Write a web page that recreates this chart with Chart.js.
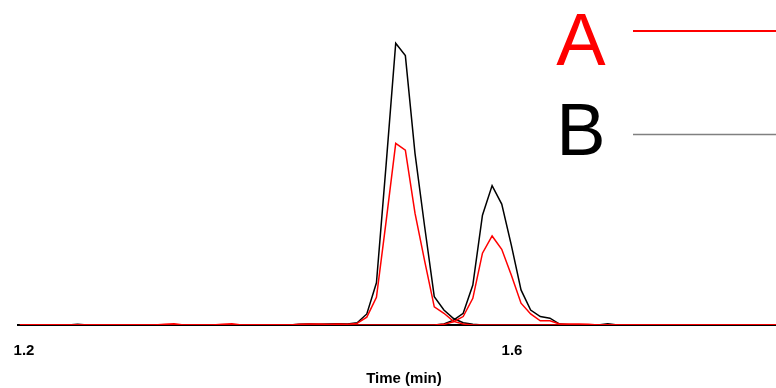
<!DOCTYPE html>
<html>
<head>
<meta charset="utf-8">
<script src="https://cdn.jsdelivr.net/npm/chart.js@4"></script>
<style>
  html, body { margin: 0; padding: 0; background: #ffffff; }
  #chromatogram { display: block; }
</style>
</head>
<body>
<canvas id="chromatogram" width="776" height="388"></canvas>
<script>
// retention time grid (min)
const timeMin = [
  1.1966, 1.2045, 1.2124, 1.2203, 1.2282, 1.2361, 1.2440, 1.2519, 1.2598, 1.2677,
  1.2756, 1.2835, 1.2914, 1.2993, 1.3072, 1.3151, 1.3230, 1.3309, 1.3388, 1.3467,
  1.3546, 1.3625, 1.3704, 1.3783, 1.3862, 1.3941, 1.4020, 1.4099, 1.4178, 1.4257,
  1.4336, 1.4415, 1.4494, 1.4573, 1.4652, 1.4731, 1.4810, 1.4889, 1.4968, 1.5047,
  1.5126, 1.5205, 1.5284, 1.5363, 1.5442, 1.5521, 1.5600, 1.5679, 1.5758, 1.5837,
  1.5916, 1.5995, 1.6074, 1.6153, 1.6232, 1.6311, 1.6390, 1.6469, 1.6548, 1.6627,
  1.6706, 1.6785, 1.6864, 1.6943, 1.7022, 1.7101, 1.7180, 1.7259, 1.7338, 1.7417,
  1.7496, 1.7575, 1.7654, 1.7733, 1.7812, 1.7891, 1.7970, 1.8049, 1.8128, 1.8207,
];

// trace A, first and second peak
const intensityA1 = [
  0, 0, 0, 0, 0, 0, 0, 0, 0, 0,
  0, 0, 0, 0, 0, 0.2, 0.4, 0, 0, 0,
  0, 0.2, 0.4, 0, 0, 0, 0, 0, 0, 0.2,
  0.3, 0.3, 0.2, 0.3, 0.2, 0.5, 2.4, 8.5, 31.8, 55.9,
  53.8, 34.4, 19.7, 5.6, 3.6, 1.1, 0.3, 0, 0, 0,
  0, 0, 0, 0, 0, 0, 0, 0, 0, 0,
  0, 0, 0, 0, 0, 0, 0, 0, 0, 0,
  0, 0, 0, 0, 0, 0, 0, 0, 0, 0,
];
const intensityA2 = [
  0, 0, 0, 0, 0, 0, 0, 0, 0, 0,
  0, 0, 0, 0, 0, 0, 0, 0, 0, 0,
  0, 0, 0, 0, 0, 0, 0, 0, 0, 0,
  0, 0, 0, 0, 0, 0, 0, 0, 0, 0,
  0, 0, 0, 0, 0.2, 1.0, 2.6, 8.2, 22.1, 27.4,
  23.3, 15.3, 6.7, 3.4, 1.3, 1.3, 0.3, 0.3, 0.3, 0.2,
  0, 0, 0, 0, 0, 0, 0, 0, 0, 0,
  0, 0, 0, 0, 0, 0, 0, 0, 0, 0,
];

// trace B, first and second peak
const intensityB1 = [
  0, 0, 0, 0, 0, 0, 0.2, 0, 0, 0,
  0, 0, 0, 0, 0, 0, 0, 0, 0, 0,
  0, 0, 0, 0, 0, 0, 0, 0, 0, 0.2,
  0.3, 0.2, 0.3, 0.4, 0.3, 0.7, 3.4, 13.0, 49.2, 86.7,
  82.9, 52.8, 30.3, 8.7, 4.6, 2.0, 0.7, 0.2, 0, 0,
  0, 0, 0, 0, 0, 0, 0, 0, 0, 0,
  0, 0, 0, 0, 0, 0, 0, 0, 0, 0,
  0, 0, 0, 0, 0, 0, 0, 0, 0, 0,
];
const intensityB2 = [
  0, 0, 0, 0, 0, 0, 0, 0, 0, 0,
  0, 0, 0, 0, 0, 0, 0, 0, 0, 0,
  0, 0, 0, 0, 0, 0, 0, 0, 0, 0,
  0, 0, 0, 0, 0, 0, 0, 0, 0, 0,
  0, 0, 0, 0, 0.3, 1.5, 3.6, 12.3, 33.8, 42.9,
  37.2, 24.5, 10.8, 4.6, 2.6, 2.1, 0.3, 0.1, 0, 0,
  0, 0.4, 0, 0, 0, 0, 0, 0, 0, 0,
  0, 0, 0, 0, 0, 0, 0, 0, 0, 0,
];

const xTickValues = [1.2, 1.6];
const xTitle = "Time (min)";

const legendNames = ["A", "B"];
const legendTextColors = ["#ff0000", "#000000"];
const legendLineColors = ["#ff0000", "#808080"];

const FONT = "'Liberation Sans', Arial, sans-serif";

function toPoints(values) {
  return timeMin.map((t, i) => ({ x: t, y: values[i] }));
}

function traceDataset(label, values, color) {
  return {
    label: label,
    data: toPoints(values),
    borderColor: color,
    borderWidth: 1.5,
    pointRadius: 0,
    tension: 0,
    fill: false,
  };
}

// big letter + line key in the top right corner
const letterLegend = {
  id: "letterLegend",
  afterDraw(chart) {
    const ctx = chart.ctx;
    const rowBaselines = [65, 155];
    const rowLines = [31, 134.5];
    const lineWidths = [2, 1.5];
    ctx.save();
    ctx.font = "74px " + FONT;
    ctx.textAlign = "center";
    ctx.textBaseline = "alphabetic";
    legendNames.forEach((name, i) => {
      ctx.fillStyle = legendTextColors[i];
      ctx.fillText(name, 581, rowBaselines[i]);
      ctx.strokeStyle = legendLineColors[i];
      ctx.lineWidth = lineWidths[i];
      ctx.beginPath();
      ctx.moveTo(633, rowLines[i]);
      ctx.lineTo(chart.width, rowLines[i]);
      ctx.stroke();
    });
    ctx.restore();
  },
};

// x axis title, sits a little right of the plot centre
const axisTitle = {
  id: "axisTitle",
  afterDraw(chart) {
    const ctx = chart.ctx;
    ctx.save();
    ctx.font = "bold 15px " + FONT;
    ctx.fillStyle = "#000000";
    ctx.textAlign = "center";
    ctx.textBaseline = "middle";
    ctx.fillText(xTitle, 404, 379);
    ctx.restore();
  },
};

function createChromatogram() {
  const config = {
    type: "line",
    data: {
      datasets: [
        traceDataset("A", intensityA1, "#ff0000"),
        traceDataset("A", intensityA2, "#ff0000"),
        traceDataset("B", intensityB1, "#000000"),
        traceDataset("B", intensityB2, "#000000"),
      ],
    },
    options: {
      responsive: false,
      animation: false,
      layout: { padding: { left: 18, right: 0, top: 0, bottom: 11 } },
      plugins: {
        legend: { display: false },
        tooltip: { enabled: false },
      },
      scales: {
        x: {
          type: "linear",
          min: 1.1951,
          max: 1.8164,
          afterBuildTicks: (scale) => {
            scale.ticks = xTickValues.map((v) => ({ value: v }));
          },
          // labels stay inside the padding, no extra room needed
          afterFit: (scale) => {
            scale.paddingLeft = 0;
            scale.paddingRight = 0;
          },
          grid: { display: false, drawTicks: false },
          border: { display: true, color: "#000000", width: 2 },
          ticks: {
            color: "#000000",
            padding: 17,
            maxRotation: 0,
            font: { family: FONT, size: 15, weight: "bold" },
            callback: (v) => v.toFixed(1),
          },
        },
        y: {
          display: false,
          min: 0,
          max: 100,
        },
      },
    },
    plugins: [letterLegend, axisTitle],
  };
  return new Chart(document.getElementById("chromatogram"), config);
}

createChromatogram();
</script>
</body>
</html>
